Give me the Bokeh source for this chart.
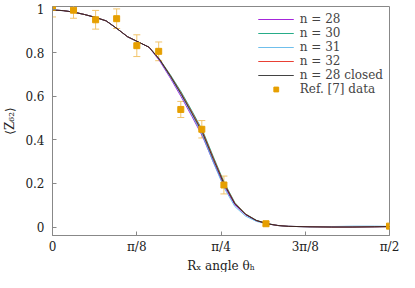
import math
from bokeh.plotting import figure
from bokeh.models import (ColumnDataSource, Range1d, FixedTicker, CustomJSTickFormatter,
                          Whisker, TeeHead, Legend, LegendItem, Title)
from bokeh.embed import file_html
from bokeh.resources import INLINE

# ---- data ----
theta = [0.0, 0.05, 0.1, 0.15, 0.2, 0.25, 0.3, 0.35, 0.4, 0.45, 0.5, 0.55, 0.6, 0.65,
         0.7, 0.75, 0.8, 0.85, 0.9, 0.95, 1.0, 1.05, 1.1, 1.2, 1.3, 1.4, 1.5, 1.5708]
z_n28 = [0.997, 0.994, 0.987, 0.976, 0.963, 0.947, 0.912, 0.874, 0.850, 0.826, 0.762, 0.683,
         0.598, 0.508, 0.415, 0.298, 0.188, 0.102, 0.056, 0.029, 0.015, 0.007, 0.003, 0.001,
         0.000, 0.000, 0.001, 0.002]
z_n30 = [0.997, 0.994, 0.987, 0.976, 0.963, 0.947, 0.912, 0.874, 0.850, 0.826, 0.770, 0.698,
         0.620, 0.533, 0.442, 0.322, 0.205, 0.112, 0.060, 0.031, 0.016, 0.007, 0.003, 0.001,
         0.000, 0.000, 0.001, 0.002]
z_n31 = [0.997, 0.994, 0.987, 0.976, 0.963, 0.947, 0.912, 0.874, 0.850, 0.826, 0.766, 0.688,
         0.606, 0.515, 0.420, 0.296, 0.180, 0.094, 0.050, 0.026, 0.014, 0.007, 0.003, 0.001,
         0.002, 0.004, 0.004, 0.003]
z_n32 = [0.997, 0.994, 0.987, 0.976, 0.963, 0.947, 0.912, 0.874, 0.850, 0.826, 0.769, 0.694,
         0.614, 0.527, 0.436, 0.316, 0.200, 0.109, 0.059, 0.030, 0.015, 0.007, 0.003, 0.001,
         0.000, 0.000, 0.001, 0.002]
z_closed = [0.997, 0.994, 0.987, 0.976, 0.963, 0.947, 0.912, 0.874, 0.850, 0.826, 0.768, 0.692,
            0.610, 0.522, 0.430, 0.310, 0.196, 0.106, 0.058, 0.030, 0.015, 0.007, 0.003, 0.001,
            0.000, 0.000, 0.001, 0.002]

ref_theta = [0.0, 0.098, 0.201, 0.299, 0.393, 0.495, 0.598, 0.696, 0.799, 0.995, 1.5708]
ref_val = [1.01, 0.996, 0.952, 0.957, 0.833, 0.807, 0.54, 0.449, 0.193, 0.015, 0.004]
ref_err = [0.045, 0.037, 0.043, 0.045, 0.05, 0.043, 0.037, 0.04, 0.041, 0.01, 0.006]

x_ticks = [0.0, math.pi / 8, math.pi / 4, 3 * math.pi / 8, math.pi / 2]
x_tick_labels = ["0", "π/8", "π/4", "3π/8", "π/2"]
y_ticks = [0.0, 0.2, 0.4, 0.6, 0.8, 1.0]

series = [("n = 28", z_n28, "#9400d3"),
          ("n = 30", z_n30, "#009e73"),
          ("n = 31", z_n31, "#56b4e9"),
          ("n = 32", z_n32, "#e51e10"),
          ("n = 28 closed", z_closed, "#222222")]

FONT = "DejaVu Serif"
FS = "12px"

p = figure(width=399, height=272, output_backend="svg", toolbar_location=None,
           x_range=Range1d(0, math.pi / 2), y_range=Range1d(-0.039, 1.013),
           min_border_left=4, min_border_right=10, min_border_top=6, min_border_bottom=0)
p.xgrid.visible = False
p.ygrid.visible = False
p.outline_line_color = "#888888"
p.background_fill_color = "white"
p.border_fill_color = "white"

items = []
for label, ys, col in series:
    r = p.line(theta, ys, line_color=col, line_width=1, line_alpha=0.85)
    items.append(LegendItem(label=label, renderers=[r]))

src = ColumnDataSource(dict(x=ref_theta, y=ref_val,
                            lo=[v - e for v, e in zip(ref_val, ref_err)],
                            hi=[v + e for v, e in zip(ref_val, ref_err)]))
wh = Whisker(source=src, base="x", upper="hi", lower="lo", dimension="height",
             line_color="#f2c46a", line_width=1,
             upper_head=TeeHead(size=7, line_color="#f2c46a", line_width=1),
             lower_head=TeeHead(size=7, line_color="#f2c46a", line_width=1))
p.add_layout(wh)
sr = p.scatter("x", "y", source=src, marker="square", size=6, color="#e69f00")
items.append(LegendItem(label="Ref. [7] data", renderers=[sr]))

xfmt = CustomJSTickFormatter(args=dict(labels=x_tick_labels), code="return labels[index];")
yfmt = CustomJSTickFormatter(code="return tick.toString();")

for ax in p.xaxis:
    ax.ticker = FixedTicker(ticks=x_ticks)
    ax.formatter = xfmt
for ax in p.yaxis:
    ax.ticker = FixedTicker(ticks=y_ticks)
    ax.formatter = yfmt
    ax.axis_label = "⟨Z₆₂⟩"

for ax in list(p.xaxis) + list(p.yaxis):
    ax.axis_line_color = "#888888"
    ax.major_tick_line_color = "#888888"
    ax.major_tick_in = 4
    ax.major_tick_out = 0
    ax.minor_tick_line_color = None
    ax.major_label_text_font = FONT
    ax.major_label_text_font_size = FS
    ax.major_label_text_color = "#222222"
    ax.axis_label_text_font = FONT
    ax.axis_label_text_font_size = FS
    ax.axis_label_text_font_style = "normal"
    ax.axis_label_text_color = "#222222"

for ax in p.xaxis:
    ax.major_label_standoff = 4
for ax in p.yaxis:
    ax.major_label_standoff = 8
    ax.axis_label_standoff = 5

# x axis title placed below the tick labels
xtitle = Title(text="Rₓ angle θₕ", align="center", text_font=FONT, text_font_size=FS,
               text_font_style="normal", text_color="#222222", standoff=0, offset=0)
p.add_layout(xtitle, "below")

legend = Legend(items=items, location="top_right", border_line_color=None,
                background_fill_alpha=0.0, label_text_font=FONT,
                label_text_font_size=FS, label_height=12, glyph_height=12,
                glyph_width=36, spacing=0, padding=2, margin=6,
                label_text_line_height=0.9, label_standoff=6)
p.add_layout(legend)

open("out.html", "w").write(file_html(p, INLINE))
